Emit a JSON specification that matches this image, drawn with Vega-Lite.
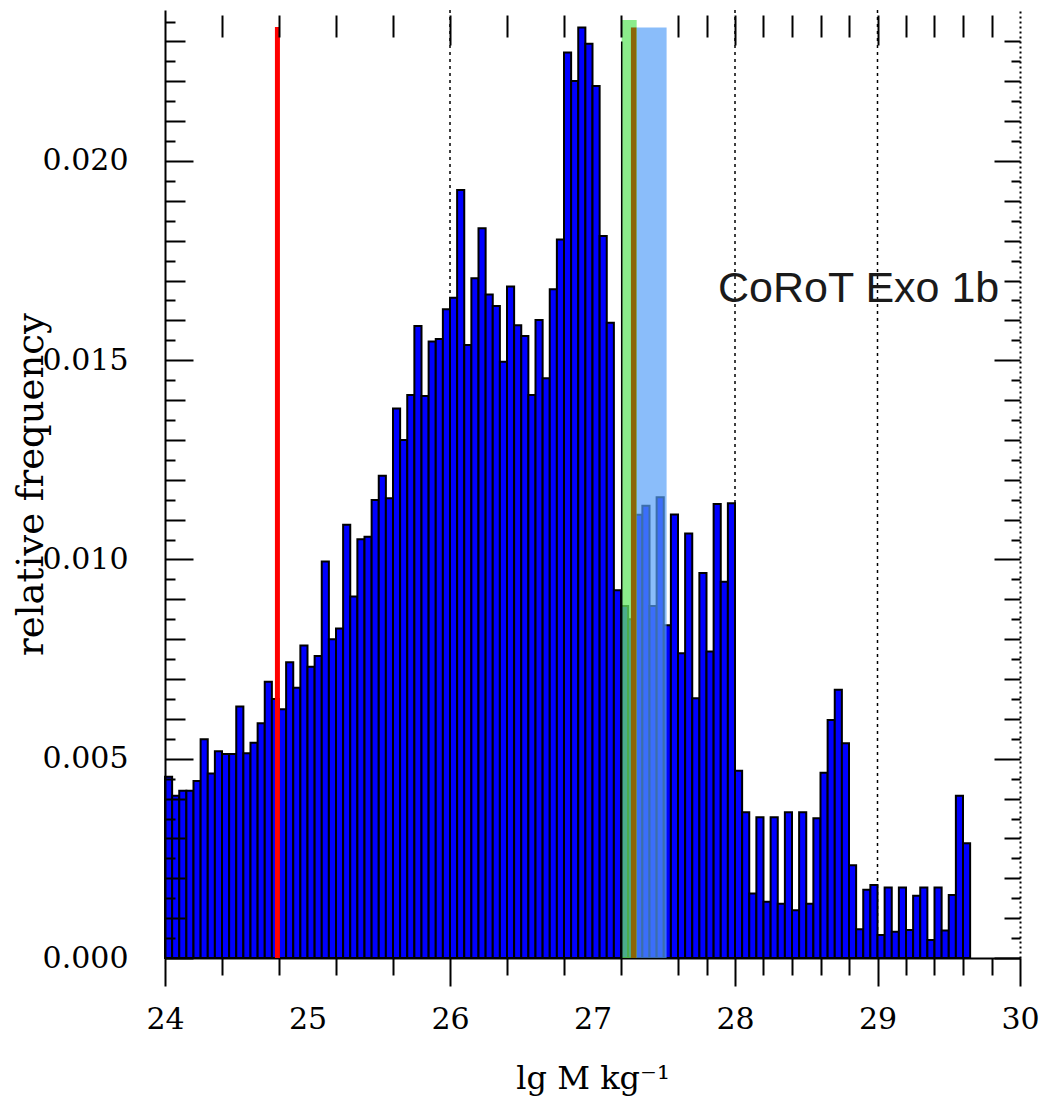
{
  "$schema": "https://vega.github.io/schema/vega-lite/v6.json",
  "autosize": {"type": "none"},
  "padding": {"left": 165, "top": 10, "right": 19, "bottom": 139},
  "width": 855,
  "height": 948,
  "background": "white",
  "config": {
    "view": {"stroke": null},
    "axis": {"domainColor": "black", "tickColor": "black", "labelColor": "black", "titleColor": "black", "grid": false}
  },
  "datasets": {
    "bins": [
      {"lo": 24.00, "hi": 24.05, "freq": 0.00455},
      {"lo": 24.05, "hi": 24.10, "freq": 0.00407},
      {"lo": 24.10, "hi": 24.15, "freq": 0.00420},
      {"lo": 24.15, "hi": 24.20, "freq": 0.00420},
      {"lo": 24.20, "hi": 24.25, "freq": 0.00444},
      {"lo": 24.25, "hi": 24.30, "freq": 0.00549},
      {"lo": 24.30, "hi": 24.35, "freq": 0.00463},
      {"lo": 24.35, "hi": 24.40, "freq": 0.00519},
      {"lo": 24.40, "hi": 24.45, "freq": 0.00512},
      {"lo": 24.45, "hi": 24.50, "freq": 0.00512},
      {"lo": 24.50, "hi": 24.55, "freq": 0.00631},
      {"lo": 24.55, "hi": 24.60, "freq": 0.00514},
      {"lo": 24.60, "hi": 24.65, "freq": 0.00540},
      {"lo": 24.65, "hi": 24.70, "freq": 0.00589},
      {"lo": 24.70, "hi": 24.75, "freq": 0.00693},
      {"lo": 24.75, "hi": 24.80, "freq": 0.00650},
      {"lo": 24.80, "hi": 24.85, "freq": 0.00624},
      {"lo": 24.85, "hi": 24.90, "freq": 0.00742},
      {"lo": 24.90, "hi": 24.95, "freq": 0.00678},
      {"lo": 24.95, "hi": 25.00, "freq": 0.00784},
      {"lo": 25.00, "hi": 25.05, "freq": 0.00731},
      {"lo": 25.05, "hi": 25.10, "freq": 0.00758},
      {"lo": 25.10, "hi": 25.15, "freq": 0.00995},
      {"lo": 25.15, "hi": 25.20, "freq": 0.00800},
      {"lo": 25.20, "hi": 25.25, "freq": 0.00827},
      {"lo": 25.25, "hi": 25.30, "freq": 0.01087},
      {"lo": 25.30, "hi": 25.35, "freq": 0.00907},
      {"lo": 25.35, "hi": 25.40, "freq": 0.01051},
      {"lo": 25.40, "hi": 25.45, "freq": 0.01057},
      {"lo": 25.45, "hi": 25.50, "freq": 0.01149},
      {"lo": 25.50, "hi": 25.55, "freq": 0.01210},
      {"lo": 25.55, "hi": 25.60, "freq": 0.01154},
      {"lo": 25.60, "hi": 25.65, "freq": 0.01379},
      {"lo": 25.65, "hi": 25.70, "freq": 0.01300},
      {"lo": 25.70, "hi": 25.75, "freq": 0.01413},
      {"lo": 25.75, "hi": 25.80, "freq": 0.01586},
      {"lo": 25.80, "hi": 25.85, "freq": 0.01410},
      {"lo": 25.85, "hi": 25.90, "freq": 0.01547},
      {"lo": 25.90, "hi": 25.95, "freq": 0.01553},
      {"lo": 25.95, "hi": 26.00, "freq": 0.01628},
      {"lo": 26.00, "hi": 26.05, "freq": 0.01657},
      {"lo": 26.05, "hi": 26.10, "freq": 0.01927},
      {"lo": 26.10, "hi": 26.15, "freq": 0.01538},
      {"lo": 26.15, "hi": 26.20, "freq": 0.01706},
      {"lo": 26.20, "hi": 26.25, "freq": 0.01831},
      {"lo": 26.25, "hi": 26.30, "freq": 0.01665},
      {"lo": 26.30, "hi": 26.35, "freq": 0.01636},
      {"lo": 26.35, "hi": 26.40, "freq": 0.01496},
      {"lo": 26.40, "hi": 26.45, "freq": 0.01685},
      {"lo": 26.45, "hi": 26.50, "freq": 0.01588},
      {"lo": 26.50, "hi": 26.55, "freq": 0.01561},
      {"lo": 26.55, "hi": 26.60, "freq": 0.01413},
      {"lo": 26.60, "hi": 26.65, "freq": 0.01601},
      {"lo": 26.65, "hi": 26.70, "freq": 0.01455},
      {"lo": 26.70, "hi": 26.75, "freq": 0.01678},
      {"lo": 26.75, "hi": 26.80, "freq": 0.01803},
      {"lo": 26.80, "hi": 26.85, "freq": 0.02272},
      {"lo": 26.85, "hi": 26.90, "freq": 0.02201},
      {"lo": 26.90, "hi": 26.95, "freq": 0.02335},
      {"lo": 26.95, "hi": 27.00, "freq": 0.02294},
      {"lo": 27.00, "hi": 27.05, "freq": 0.02188},
      {"lo": 27.05, "hi": 27.10, "freq": 0.01812},
      {"lo": 27.10, "hi": 27.15, "freq": 0.01594},
      {"lo": 27.15, "hi": 27.20, "freq": 0.00923},
      {"lo": 27.20, "hi": 27.25, "freq": 0.00883},
      {"lo": 27.25, "hi": 27.30, "freq": 0.00850},
      {"lo": 27.30, "hi": 27.35, "freq": 0.01112},
      {"lo": 27.35, "hi": 27.40, "freq": 0.01135},
      {"lo": 27.40, "hi": 27.45, "freq": 0.00883},
      {"lo": 27.45, "hi": 27.50, "freq": 0.01156},
      {"lo": 27.50, "hi": 27.55, "freq": 0.00835},
      {"lo": 27.55, "hi": 27.60, "freq": 0.01113},
      {"lo": 27.60, "hi": 27.65, "freq": 0.00765},
      {"lo": 27.65, "hi": 27.70, "freq": 0.01065},
      {"lo": 27.70, "hi": 27.75, "freq": 0.00652},
      {"lo": 27.75, "hi": 27.80, "freq": 0.00966},
      {"lo": 27.80, "hi": 27.85, "freq": 0.00769},
      {"lo": 27.85, "hi": 27.90, "freq": 0.01139},
      {"lo": 27.90, "hi": 27.95, "freq": 0.00944},
      {"lo": 27.95, "hi": 28.00, "freq": 0.01141},
      {"lo": 28.00, "hi": 28.05, "freq": 0.00470},
      {"lo": 28.05, "hi": 28.10, "freq": 0.00366},
      {"lo": 28.10, "hi": 28.15, "freq": 0.00162},
      {"lo": 28.15, "hi": 28.20, "freq": 0.00353},
      {"lo": 28.20, "hi": 28.25, "freq": 0.00141},
      {"lo": 28.25, "hi": 28.30, "freq": 0.00353},
      {"lo": 28.30, "hi": 28.35, "freq": 0.00136},
      {"lo": 28.35, "hi": 28.40, "freq": 0.00366},
      {"lo": 28.40, "hi": 28.45, "freq": 0.00120},
      {"lo": 28.45, "hi": 28.50, "freq": 0.00366},
      {"lo": 28.50, "hi": 28.55, "freq": 0.00136},
      {"lo": 28.55, "hi": 28.60, "freq": 0.00351},
      {"lo": 28.60, "hi": 28.65, "freq": 0.00465},
      {"lo": 28.65, "hi": 28.70, "freq": 0.00597},
      {"lo": 28.70, "hi": 28.75, "freq": 0.00673},
      {"lo": 28.75, "hi": 28.80, "freq": 0.00539},
      {"lo": 28.80, "hi": 28.85, "freq": 0.00233},
      {"lo": 28.85, "hi": 28.90, "freq": 0.00072},
      {"lo": 28.90, "hi": 28.95, "freq": 0.00171},
      {"lo": 28.95, "hi": 29.00, "freq": 0.00183},
      {"lo": 29.00, "hi": 29.05, "freq": 0.00058},
      {"lo": 29.05, "hi": 29.10, "freq": 0.00177},
      {"lo": 29.10, "hi": 29.15, "freq": 0.00066},
      {"lo": 29.15, "hi": 29.20, "freq": 0.00177},
      {"lo": 29.20, "hi": 29.25, "freq": 0.00070},
      {"lo": 29.25, "hi": 29.30, "freq": 0.00156},
      {"lo": 29.30, "hi": 29.35, "freq": 0.00177},
      {"lo": 29.35, "hi": 29.40, "freq": 0.00045},
      {"lo": 29.40, "hi": 29.45, "freq": 0.00177},
      {"lo": 29.45, "hi": 29.50, "freq": 0.00069},
      {"lo": 29.50, "hi": 29.55, "freq": 0.00158},
      {"lo": 29.55, "hi": 29.60, "freq": 0.00407},
      {"lo": 29.60, "hi": 29.65, "freq": 0.00288}
    ],
    "grid": [{"g": 26}, {"g": 28}, {"g": 29}],
    "lightblue": [{"x0": 27.27, "x1": 27.52, "y0": 0, "y1": 0.02335}],
    "green": [{"x0": 27.205, "x1": 27.31, "y0": 0, "y1": 0.02354}],
    "edge": [{"x": 27.205, "y0": 0, "y1": 0.0230}],
    "measured": [{"x": 27.289, "y0": 0, "y1": 0.02335}],
    "red": [{"x": 24.789, "y0": 0, "y1": 0.02336}],
    "label": [{"x": 27.881, "y": 0.01646, "text": "CoRoT Exo 1b"}]
  },
  "resolve": {"axis": {"x": "independent", "y": "independent"}},
  "layer": [
    {
      "data": {"name": "grid"},
      "mark": {"type": "rule", "color": "black", "strokeWidth": 1.5, "strokeDash": [3, 4]},
      "encoding": {
        "x": {
          "field": "g", "type": "quantitative",
          "scale": {"domain": [24, 30], "nice": false, "zero": false},
          "axis": {
            "orient": "bottom",
            "zindex": 0,
            "values": [24, 24.4, 24.8, 25, 25.2, 25.6, 26, 26.4, 26.8, 27, 27.2, 27.6, 27.8, 28, 28.2, 28.4, 28.6, 28.8, 29, 29.2, 29.4, 29.6, 29.8, 30],
            "labelExpr": "datum.value % 1 == 0 ? format(datum.value, 'd') : ''",
            "labelFont": "DejaVu Serif",
            "labelFontSize": 30,
            "labelPadding": {"condition": {"test": "datum.value == 25 || datum.value == 27", "value": 29}, "value": 18},
            "labelFlush": false,
            "labelOverlap": false,
            "tickSize": {"condition": {"test": "indexof([24, 26, 28, 29, 30], datum.value) >= 0", "value": 28}, "value": 17},
            "tickOpacity": {"condition": {"test": "datum.value == 25 || datum.value == 27", "value": 0}, "value": 1},
            "tickWidth": 2,
            "domainWidth": 2,
            "title": "lg M kg⁻¹",
            "titleFont": "DejaVu Serif",
            "titleFontSize": 32,
            "titleFontWeight": "normal",
            "titlePadding": 29
          }
        }
      }
    },
    {
      "data": {"name": "bins"},
      "mark": {"type": "rect", "fill": "#0000ff", "stroke": "black", "strokeWidth": 2},
      "encoding": {
        "x": {
          "field": "lo", "type": "quantitative",
          "scale": {"domain": [24, 30], "nice": false, "zero": false},
          "axis": {
            "orient": "top",
            "zindex": 1,
            "offset": -5,
            "domain": false,
            "labels": false,
            "values": [24.4, 24.8, 25.2, 25.6, 26, 26.4, 26.8, 27.2, 27.6, 27.8, 28, 28.2, 28.4, 28.6, 28.8, 29, 29.2, 29.4, 29.6, 29.8],
            "tickSize": {"condition": {"test": "indexof([26, 28, 29], datum.value) >= 0", "value": -30}, "value": -22},
            "tickWidth": 2,
            "title": null
          }
        },
        "x2": {"field": "hi"},
        "y": {
          "field": "freq", "type": "quantitative",
          "scale": {"domain": [0, 0.023789], "nice": false, "zero": true},
          "axis": {
            "orient": "left",
            "zindex": 1,
            "values": [0, 0.0005, 0.001, 0.0015, 0.002, 0.0025, 0.003, 0.0035, 0.004, 0.0045, 0.005, 0.0055, 0.006, 0.0065, 0.007, 0.0075, 0.008, 0.0085, 0.009, 0.0095, 0.01, 0.0105, 0.011, 0.0115, 0.012, 0.0125, 0.013, 0.0135, 0.014, 0.0145, 0.015, 0.0155, 0.016, 0.0165, 0.017, 0.0175, 0.018, 0.0185, 0.019, 0.0195, 0.02, 0.0205, 0.021, 0.0215, 0.022, 0.0225, 0.023, 0.0235],
            "labelExpr": "round(datum.value * 2000) % 10 == 0 ? format(datum.value, '.3f') : ''",
            "labelFont": "DejaVu Serif",
            "labelFontSize": 30,
            "labelPadding": 65,
            "labelOverlap": false,
            "labelFlush": false,
            "tickSize": {"condition": [
              {"test": "round(datum.value * 2000) % 10 == 0", "value": -28},
              {"test": "round(datum.value * 2000) % 2 == 0", "value": -20}
            ], "value": -10},
            "tickWidth": 2,
            "domainWidth": 2,
            "title": "relative frequency",
            "titleFont": "DejaVu Serif",
            "titleFontSize": 37,
            "titleFontWeight": "normal",
            "titlePadding": -8
          }
        }
      }
    },
    {
      "data": {"name": "lightblue"},
      "mark": {"type": "rect", "fill": "#55a0f8", "opacity": 0.69},
      "encoding": {
        "x": {"field": "x0", "type": "quantitative", "axis": null},
        "x2": {"field": "x1"},
        "y": {
          "field": "y0", "type": "quantitative",
          "axis": {
            "orient": "right",
            "zindex": 1,
            "labels": false,
            "title": null,
            "values": [0, 0.0005, 0.001, 0.0015, 0.002, 0.0025, 0.003, 0.0035, 0.004, 0.0045, 0.005, 0.0055, 0.006, 0.0065, 0.007, 0.0075, 0.008, 0.0085, 0.009, 0.0095, 0.01, 0.0105, 0.011, 0.0115, 0.012, 0.0125, 0.013, 0.0135, 0.014, 0.0145, 0.015, 0.0155, 0.016, 0.0165, 0.017, 0.0175, 0.018, 0.0185, 0.019, 0.0195, 0.02, 0.0205, 0.021, 0.0215, 0.022, 0.0225, 0.023],
            "tickSize": {"condition": [
              {"test": "round(datum.value * 2000) % 10 == 0", "value": -26},
              {"test": "round(datum.value * 2000) % 2 == 0", "value": -16}
            ], "value": -9},
            "tickWidth": 2,
            "domainWidth": 2,
            "domainDash": [2, 3]
          }
        },
        "y2": {"field": "y1"}
      }
    },
    {
      "data": {"name": "green"},
      "mark": {"type": "rect", "fill": "#64e664", "opacity": 0.75},
      "encoding": {
        "x": {"field": "x0", "type": "quantitative", "axis": null},
        "x2": {"field": "x1"},
        "y": {"field": "y0", "type": "quantitative", "axis": null},
        "y2": {"field": "y1"}
      }
    },
    {
      "data": {"name": "edge"},
      "mark": {"type": "rule", "color": "black", "strokeWidth": 1.5},
      "encoding": {
        "x": {"field": "x", "type": "quantitative", "axis": null},
        "y": {"field": "y0", "type": "quantitative", "axis": null},
        "y2": {"field": "y1"}
      }
    },
    {
      "data": {"name": "measured"},
      "mark": {"type": "rule", "color": "#8b6508", "strokeWidth": 5.5},
      "encoding": {
        "x": {"field": "x", "type": "quantitative", "axis": null},
        "y": {"field": "y0", "type": "quantitative", "axis": null},
        "y2": {"field": "y1"}
      }
    },
    {
      "data": {"name": "red"},
      "mark": {"type": "rule", "color": "#ff0000", "strokeWidth": 5},
      "encoding": {
        "x": {"field": "x", "type": "quantitative", "axis": null},
        "y": {"field": "y0", "type": "quantitative", "axis": null},
        "y2": {"field": "y1"}
      }
    },
    {
      "data": {"name": "label"},
      "mark": {"type": "text", "font": "Liberation Sans", "fontSize": 43, "align": "left", "baseline": "alphabetic", "color": "#1a1a1a"},
      "encoding": {
        "x": {"field": "x", "type": "quantitative", "axis": null},
        "y": {"field": "y", "type": "quantitative", "axis": null},
        "text": {"field": "text"}
      }
    }
  ]
}
